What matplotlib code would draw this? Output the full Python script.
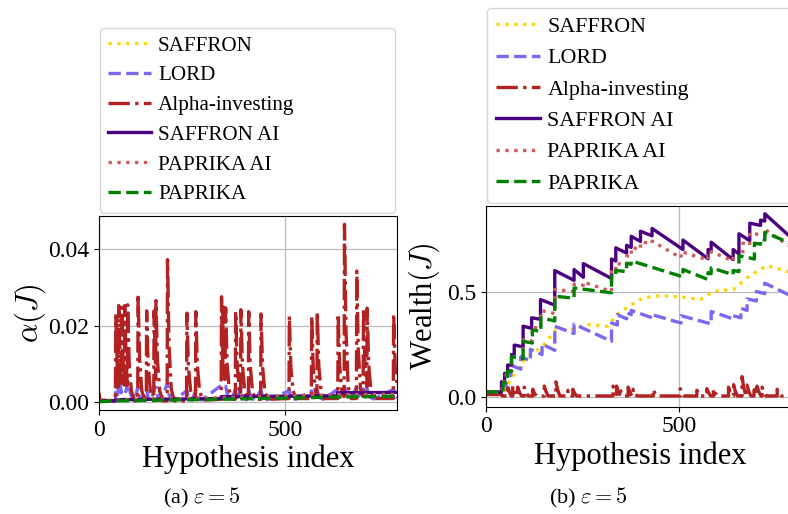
import numpy as np
import matplotlib
matplotlib.use('Agg')
import matplotlib.pyplot as plt

plt.rcParams['font.family'] = 'serif'
plt.rcParams['font.serif'] = ['Liberation Serif', 'DejaVu Serif']
plt.rcParams['mathtext.fontset'] = 'cm'

"""
DATA (read off the reference picture)
"""
labels = ['SAFFRON', 'LORD', 'Alpha-investing', 'SAFFRON AI', 'PAPRIKA AI', 'PAPRIKA']
colors = ['gold', 'mediumslateblue', 'firebrick', 'indigo', 'indianred', 'green']
styles = [':', '--', '-.', '-', ':', '--']

# (a) alpha(J) per hypothesis index
saffron_a = [(0, .0002), (45, .0007), (330, .0012), (640, .0016), (800, .0018)]
lord_a = [(0, .0015), (2, .0004), (44, .0003), (46, .0055), (50, .002), (55, .0058), (60, .0025),
          (66, .006), (72, .0028), (78, .0055), (85, .002), (95, .0006), (105, .004), (109, .0015),
          (118, .0006), (128, .0035), (132, .0012), (140, .0005), (148, .0035), (153, .004),
          (158, .0015), (166, .0006), (184, .005), (188, .002), (200, .0006), (236, .003),
          (240, .0012), (250, .0006), (260, .0032), (265, .0012), (276, .0006), (329, .0045),
          (333, .004), (340, .0042), (346, .0015), (356, .0007), (367, .0035), (372, .0013),
          (381, .0038), (386, .0014), (396, .0007), (402, .0033), (408, .0012), (418, .0007),
          (435, .0032), (440, .0012), (452, .0007), (511, .003), (516, .0012), (528, .0008),
          (571, .003), (576, .0012), (586, .0032), (591, .0013), (602, .0008), (642, .0035),
          (648, .0013), (659, .0045), (664, .0018), (676, .0009), (692, .004), (697, .0016),
          (710, .0035), (715, .0014), (720, .0035), (726, .0014), (738, .0009), (791, .0034),
          (796, .0015), (800, .0012)]
alpha_inv_a = [(0, .0025), (3, .0006), (44, .0004),
               (45, .0226), (49, .0095), (52, .004), (53, .0253), (57, .0105), (60, .0045),
               (61, .0248), (65, .010), (68, .0045), (69, .0253), (73, .0105), (76, .0045),
               (77, .0255), (81, .0105), (87, .003), (95, .0004),
               (104, .0004), (105, .0283), (109, .0115), (115, .003), (123, .0004),
               (127, .0004), (128, .0239), (132, .0098), (138, .003), (147, .0004),
               (148, .0239), (151, .011), (152, .006), (153, .0266), (157, .011), (163, .003), (171, .0004),
               (183, .0004), (184, .0373), (188, .015), (194, .0035), (202, .0004),
               (235, .0004), (236, .0233), (240, .0095), (246, .003), (254, .0004),
               (259, .0004), (260, .0237), (264, .0097), (270, .003), (278, .0006),
               (328, .0008), (329, .0276), (331, .014), (332, .008), (333, .025), (335, .013),
               (338, .006), (340, .0247), (344, .010), (350, .003), (358, .0008),
               (366, .0008), (367, .0237), (371, .0097), (377, .003), (380, .002),
               (381, .0242), (385, .010), (391, .003), (399, .0008),
               (401, .0008), (402, .0237), (406, .0097), (412, .003), (420, .0008),
               (434, .0008), (435, .0231), (439, .0095), (445, .003), (453, .0008),
               (510, .001), (511, .0226), (515, .0093), (521, .003), (529, .001),
               (570, .001), (571, .0224), (575, .0092), (581, .003), (585, .0015),
               (586, .0237), (590, .0097), (596, .003), (604, .001),
               (641, .001), (642, .0231), (646, .0095), (652, .003), (658, .0015),
               (659, .0465), (663, .019), (669, .004), (677, .001),
               (691, .001), (692, .0343), (696, .014), (702, .0035), (709, .0015),
               (710, .0246), (714, .010), (719, .004), (720, .0246), (724, .010), (730, .003), (738, .001),
               (790, .001), (791, .0231), (795, .0095), (800, .005)]
saffron_ai_a = [(0, .0004), (45, .0004), (45, .0007), (330, .0010), (330, .0015),
                (640, .0017), (640, .0025), (800, .0026)]
paprika_ai_a = [(0, .0003), (45, .0006), (330, .0012), (640, .0020), (800, .0021)]
paprika_a = [(0, .0002), (45, .0004), (330, .0008), (640, .0014), (800, .0016)]

# (b) Wealth(J) per hypothesis index
saffron_b = [(0, .022), (45, .022), (53, .05), (78, .12), (104, .186), (147, .24), (181, .32),
             (225, .32), (260, .343), (316, .335), (338, .39), (377, .438), (407, .47), (450, .48),
             (502, .475), (554, .462), (589, .501), (641, .51), (676, .565), (697, .59),
             (727, .624), (800, .585)]
lord_b = [(0, .022), (42, .022), (42, .05), (52, .05), (52, .10), (64, .10), (64, .15), (90, .13),
          (90, .19), (115, .17), (115, .225), (145, .20), (145, .25), (178, .22), (178, .335),
          (228, .30), (228, .345), (325, .263), (325, .35), (340, .34), (340, .39), (364, .37),
          (364, .40), (376, .39), (376, .41), (430, .375), (430, .39), (505, .35), (505, .385),
          (575, .35), (583, .345), (583, .405), (640, .37), (640, .385), (660, .375), (660, .42),
          (676, .41), (676, .465), (700, .455), (700, .50), (722, .49), (722, .54), (800, .47)]
alpha_inv_b = [(0, .01), (40, .01), (42, .003),
               (55, .003), (55, .057), (59, .028), (65, .003), (69, .003), (69, .05), (73, .025), (79, .003),
               (82, .003), (82, .045), (86, .022), (92, .003), (99, .003), (99, .045), (103, .022), (109, .003),
               (121, .003), (121, .035), (125, .017), (131, .003), (151, .003), (151, .05), (155, .025), (161, .003),
               (181, .003), (181, .07), (185, .035), (191, .003), (212, .003), (212, .03), (216, .015), (222, .003),
               (225, .003), (225, .035), (229, .017), (235, .003), (329, .003), (329, .05), (333, .025),
               (338, .01), (338, .05), (342, .025), (346, .01), (346, .04), (350, .02), (356, .003),
               (368, .003), (368, .045), (372, .022), (378, .003), (381, .003), (381, .035), (385, .017), (391, .003),
               (433, .003), (433, .035), (437, .017), (443, .003), (503, .003), (503, .038), (507, .019), (513, .003),
               (546, .003), (546, .03), (550, .015), (556, .003), (572, .003), (572, .038), (576, .019), (582, .003),
               (589, .003), (589, .038), (593, .019), (599, .003), (628, .003), (628, .045), (632, .022), (638, .003),
               (641, .003), (641, .057), (645, .028), (651, .003), (663, .003), (663, .095), (667, .047), (673, .003),
               (676, .003), (676, .055), (680, .027), (686, .003), (694, .003), (694, .05), (698, .025),
               (702, .01), (702, .05), (706, .025), (712, .003), (715, .003), (715, .045), (719, .022), (725, .003),
               (754, .003), (754, .035), (758, .017), (764, .003), (800, .003)]
saffron_ai_b = [(0, .022), (40, .022), (40, .07), (48, .07), (48, .11), (56, .11), (56, .15), (66, .15),
                (66, .20), (73, .20), (73, .245), (96, .237), (96, .335), (118, .325), (118, .375),
                (141, .368), (141, .462), (178, .435), (178, .60), (228, .553), (228, .605), (252, .568),
                (252, .633), (325, .562), (325, .655), (336, .645), (336, .708), (364, .683), (364, .72),
                (376, .71), (376, .763), (400, .738), (400, .787), (430, .765), (430, .80), (510, .70),
                (510, .745), (575, .656), (575, .70), (583, .695), (583, .735), (640, .652), (640, .70),
                (655, .678), (655, .775), (683, .742), (683, .825), (711, .815), (711, .84), (722, .835),
                (722, .87), (800, .74)]
paprika_ai_b = [(0, .022), (42, .022), (42, .07), (52, .07), (52, .12), (66, .12), (66, .19), (96, .185),
                (96, .27), (120, .265), (120, .33), (142, .325), (142, .41), (178, .395), (178, .51),
                (228, .50), (228, .535), (252, .53), (252, .545), (325, .50), (325, .605), (336, .60),
                (336, .635), (364, .625), (364, .67), (376, .665), (376, .71), (400, .70), (400, .735),
                (430, .73), (430, .74), (505, .66), (505, .69), (575, .65), (575, .67), (583, .67),
                (583, .69), (640, .645), (640, .67), (665, .665), (665, .73), (683, .72), (683, .78),
                (722, .765), (722, .795), (800, .70)]
paprika_b = [(0, .022), (44, .022), (44, .066), (55, .066), (55, .12), (66, .12), (66, .19), (96, .18),
             (96, .263), (120, .255), (120, .317), (142, .31), (142, .375), (178, .36), (178, .478),
             (228, .468), (228, .517), (325, .494), (325, .573), (336, .57), (336, .60), (364, .595),
             (364, .635), (376, .63), (376, .646), (510, .57), (510, .605), (575, .557), (575, .59),
             (583, .585), (583, .613), (640, .58), (640, .60), (655, .595), (655, .67), (695, .655),
             (695, .73), (711, .725), (711, .75), (722, .745), (722, .782), (800, .72)]

series_a = [saffron_a, lord_a, alpha_inv_a, saffron_ai_a, paprika_ai_a, paprika_a]
series_b = [saffron_b, lord_b, alpha_inv_b, saffron_ai_b, paprika_ai_b, paprika_b]

"""
PLOT
"""
fig = plt.figure(figsize=(7.88, 5.14), dpi=100)
axA = fig.add_axes([0.1256, 0.2023, 0.3782, 0.3775])
axB = fig.add_axes([0.6168, 0.2088, 0.3920, 0.3904])

def drawPanel(ax, series, ylim, yticks, yfmt, ylabel, ylpad, legsize, legspace, caption, capx):
    for pts, lab, c, ls in zip(series, labels, colors, styles):
        xy = np.array(pts)
        ax.plot(xy[:, 0], xy[:, 1], ls, color=c, lw=2.4, label=lab)
    ax.set_xlim(0, 800)
    ax.set_ylim(*ylim)
    ax.set_xticks([0, 500])
    ax.set_yticks(yticks)
    ax.set_yticklabels([yfmt % v for v in yticks])
    ax.tick_params(labelsize=17, color='black')
    ax.grid(True, color='#bbbbbb', lw=0.9)
    ax.set_axisbelow(True)
    ax.set_xlabel('Hypothesis index', fontsize=22, labelpad=3)
    ax.set_ylabel(ylabel, fontsize=22, labelpad=ylpad)
    ax.legend(loc='lower left', bbox_to_anchor=(0.003, 1.017, 0.99, 0.3), mode='expand',
              borderaxespad=0, fontsize=legsize, handlelength=2.0, handletextpad=0.35,
              labelspacing=legspace, borderpad=0.4)
    fig.text(capx, 0.032, caption, fontsize=16, ha='center', va='center')

drawPanel(axA, series_a, (-0.002, 0.0487), [0.0, 0.02, 0.04], '%.2f', r'$\alpha(J)$', 0,
          15.2, 0.47, r'(a) $\varepsilon = 5$', 0.256)
drawPanel(axB, series_b, (-0.048, 0.907), [0.0, 0.5], '%.1f', r'Wealth$(J)$', 4,
          15.8, 0.5, r'(b) $\varepsilon = 5$', 0.747)

plt.savefig('out.png', dpi=100)
plt.close()
